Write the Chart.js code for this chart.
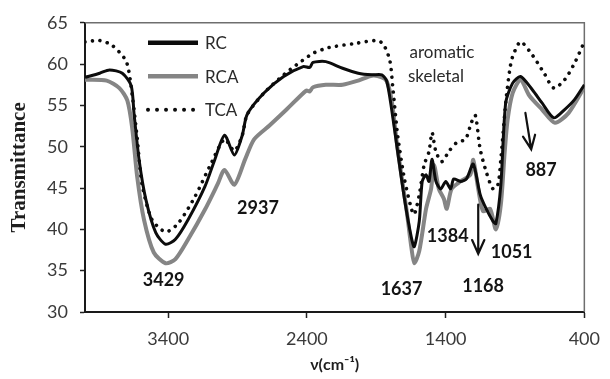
<!DOCTYPE html>
<html>
<head>
<meta charset="utf-8">
<script src="https://cdn.jsdelivr.net/npm/chart.js@4/dist/chart.umd.min.js"></script>
<style>
html,body{margin:0;padding:0;background:#fff;}
#wrap{width:610px;height:379px;position:relative;}
</style>
</head>
<body>
<div id="wrap"><canvas id="c" width="610" height="379"></canvas></div>
<script>
// ---- data ----
const seriesNames = ["RC", "RCA", "TCA"];

const rcWavenumber = [4000, 3894, 3823, 3731, 3667, 3646, 3610, 3561, 3490, 3419, 3348, 3256, 3135, 3065, 2994, 2923, 2866, 2831, 2710, 2568, 2427, 2380, 2356, 2264, 2143, 2030, 1931, 1860, 1824, 1789, 1746, 1697, 1647, 1626, 1590, 1569, 1541, 1520, 1498, 1470, 1435, 1399, 1364, 1342, 1293, 1250, 1201, 1151, 1108, 1059, 1038, 1002, 967, 917, 860, 775, 705, 620, 542, 471, 400];
const rcTransmittance = [58.4, 58.9, 59.3, 58.9, 57.4, 53.9, 48.4, 43.6, 39.6, 38.2, 38.8, 41.2, 45.2, 48.4, 51.4, 49.0, 51.4, 53.9, 56.5, 58.5, 59.7, 59.6, 60.2, 60.3, 59.5, 58.9, 58.7, 58.7, 57.9, 54.5, 49.4, 43.7, 39.0, 37.9, 41.0, 45.8, 46.6, 45.8, 48.5, 45.8, 44.9, 45.8, 44.9, 46.1, 45.8, 46.1, 47.9, 44.2, 42.5, 41.0, 40.7, 45.4, 55.3, 57.7, 58.5, 56.9, 55.3, 53.5, 54.5, 55.7, 57.5];

const rcaWavenumber = [4000, 3844, 3752, 3695, 3660, 3624, 3575, 3504, 3419, 3348, 3256, 3135, 3043, 2994, 2923, 2845, 2781, 2668, 2547, 2405, 2380, 2356, 2264, 2143, 2030, 1931, 1860, 1824, 1789, 1746, 1683, 1647, 1626, 1590, 1541, 1505, 1484, 1449, 1413, 1392, 1357, 1293, 1222, 1201, 1165, 1130, 1080, 1038, 1002, 974, 953, 917, 860, 797, 705, 612, 513, 400];
const rcaTransmittance = [58.1, 58.0, 57.1, 55.6, 52.3, 46.4, 41.2, 37.2, 35.9, 36.4, 38.8, 42.4, 45.5, 47.2, 45.4, 48.5, 50.9, 52.6, 54.5, 56.8, 56.7, 57.2, 57.5, 57.5, 58.0, 58.6, 58.4, 57.9, 55.6, 49.7, 42.5, 37.8, 35.9, 37.4, 42.5, 44.9, 47.8, 44.9, 43.7, 42.5, 44.9, 45.8, 46.6, 48.4, 44.9, 42.2, 42.5, 40.0, 43.0, 49.4, 53.3, 56.5, 58.1, 56.2, 54.5, 52.9, 54.1, 57.2];

const tcaWavenumber = [4000, 3894, 3802, 3702, 3660, 3624, 3589, 3518, 3419, 3327, 3206, 3093, 2994, 2923, 2866, 2831, 2710, 2568, 2476, 2356, 2242, 2051, 1909, 1853, 1803, 1782, 1746, 1697, 1647, 1626, 1590, 1555, 1520, 1498, 1470, 1427, 1378, 1321, 1257, 1215, 1186, 1151, 1108, 1059, 1023, 1002, 967, 938, 917, 860, 775, 690, 620, 542, 471, 400];
const tcaTransmittance = [62.7, 62.85, 62.25, 60.3, 56.3, 51.1, 45.5, 41.2, 39.7, 40.75, 44.0, 47.9, 50.9, 49.5, 51.4, 53.9, 56.5, 58.7, 59.9, 61.3, 62.0, 62.5, 62.85, 62.5, 60.5, 57.4, 51.4, 46.1, 42.5, 41.8, 44.2, 47.8, 49.4, 51.7, 49.4, 48.2, 49.4, 50.5, 50.9, 52.9, 53.8, 49.7, 47.0, 44.9, 45.4, 48.5, 55.3, 59.3, 60.9, 62.7, 61.1, 58.9, 57.1, 58.1, 60.1, 62.7];

const xTickValues = [3400, 2400, 1400, 400];
const yTickMin = 30, yTickMax = 65, yTickStep = 5;
const xAxisTitle = "ν(cm⁻¹)";
const yAxisTitle = "Transmittance";

// annotation labels (placed in data units)
const peakLabels = ["3429", "2937", "1637", "1168", "1384", "1051", "887", "aromatic", "skeletal"];
const peakLabelWavenumber = [3433, 2753, 1718, 1130, 1385, 924, 712, 1427, 1470];
const peakLabelValue = [33.8, 42.55, 32.75, 33.1, 39.2, 37.2, 47.2, 61.4, 58.5];
const peakLabelBold = [true, true, true, true, true, true, true, false, false];

// arrows (from -> to, data units)
const arrowFromWavenumber = [1165, 825];
const arrowFromValue = [43.0, 54.1];
const arrowToWavenumber = [1165, 783];
const arrowToValue = [37.05, 49.7];

// ---- build chart ----
const toPoints = (xs, ys) => xs.map((x, i) => ({x: x, y: ys[i]}));

const frameAndLabels = {
  id: 'frameAndLabels',
  beforeDatasetsDraw(chart) {
    const {ctx, chartArea: a} = chart;
    ctx.save();
    ctx.strokeStyle = '#6e6e6e';
    ctx.lineWidth = 1.5;
    ctx.beginPath();
    ctx.moveTo(a.left, a.top);
    ctx.lineTo(a.right, a.top);
    ctx.lineTo(a.right, a.bottom);
    ctx.stroke();
    ctx.restore();
  },
  afterDraw(chart) {
    const {ctx, chartArea: a, scales} = chart;
    const xs = scales.x, ys = scales.y;
    ctx.save();
    // annotation texts
    ctx.textAlign = 'center';
    ctx.textBaseline = 'middle';
    peakLabels.forEach((t, i) => {
      ctx.font = (peakLabelBold[i] ? 'bold 18px Lato' : '17px Lato');
      ctx.fillStyle = peakLabelBold[i] ? '#141414' : '#2a2a2a';
      ctx.fillText(t, xs.getPixelForValue(peakLabelWavenumber[i]), ys.getPixelForValue(peakLabelValue[i]));
    });
    // arrows
    ctx.strokeStyle = '#111';
    ctx.lineWidth = 2.2;
    ctx.lineCap = 'round';
    arrowFromWavenumber.forEach((w, i) => {
      const x1 = xs.getPixelForValue(w), y1 = ys.getPixelForValue(arrowFromValue[i]);
      const x2 = xs.getPixelForValue(arrowToWavenumber[i]), y2 = ys.getPixelForValue(arrowToValue[i]);
      const ang = Math.atan2(y2 - y1, x2 - x1);
      const L = 15, spread = 0.42;
      ctx.beginPath();
      ctx.moveTo(x1, y1); ctx.lineTo(x2, y2);
      ctx.moveTo(x2 - L * Math.cos(ang - spread), y2 - L * Math.sin(ang - spread));
      ctx.lineTo(x2, y2);
      ctx.lineTo(x2 - L * Math.cos(ang + spread), y2 - L * Math.sin(ang + spread));
      ctx.stroke();
    });
    // legend (inside plot, top-left)
    const ds = chart.data.datasets;
    ds.forEach((d, i) => {
      const y = a.top + 20 + i * 33.5;
      const x0 = a.left + 63, x1 = a.left + 113;
      ctx.save();
      ctx.strokeStyle = d.borderColor;
      ctx.lineWidth = d.legendWidth;
      ctx.lineCap = d.borderCapStyle || 'butt';
      ctx.setLineDash(d.legendDash || []);
      ctx.beginPath();
      ctx.moveTo(x0, y); ctx.lineTo(x1, y);
      ctx.stroke();
      ctx.restore();
      ctx.font = '17px Lato';
      ctx.fillStyle = '#2a2a2a';
      ctx.textAlign = 'left';
      ctx.textBaseline = 'middle';
      ctx.fillText(d.label, x1 + 7, y + 1);
    });
    ctx.restore();
  }
};

new Chart(document.getElementById('c'), {
  type: 'line',
  data: {
    datasets: [
      {
        label: seriesNames[0],
        data: toPoints(rcWavenumber, rcTransmittance),
        borderColor: '#0c0c0c',
        borderWidth: 3,
        legendWidth: 4.5,
        order: 1
      },
      {
        label: seriesNames[1],
        data: toPoints(rcaWavenumber, rcaTransmittance),
        borderColor: '#858585',
        borderWidth: 4,
        legendWidth: 4.5,
        order: 2
      },
      {
        label: seriesNames[2],
        data: toPoints(tcaWavenumber, tcaTransmittance),
        borderColor: '#0c0c0c',
        borderWidth: 3.6,
        legendWidth: 4,
        borderDash: [0.01, 7.5],
        legendDash: [0.01, 9],
        borderCapStyle: 'round',
        order: 0
      }
    ]
  },
  options: {
    responsive: false,
    animation: false,
    devicePixelRatio: 1,
    layout: {padding: {top: 19, right: 17, left: 0, bottom: 0}},
    elements: {
      point: {radius: 0, hoverRadius: 0},
      line: {tension: 0.25, fill: false, borderJoinStyle: 'round'}
    },
    plugins: {legend: {display: false}, tooltip: {enabled: false}},
    scales: {
      x: {
        type: 'linear',
        reverse: true,
        min: 400,
        max: 4000,
        afterBuildTicks: s => { s.ticks = xTickValues.map(v => ({value: v})); },
        afterFit: s => { s.height = 67; },
        ticks: {
          font: {family: 'Lato', size: 18},
          color: '#3a3a3a',
          padding: 10,
          maxRotation: 0,
          autoSkip: false,
          callback: v => String(v)
        },
        grid: {drawOnChartArea: false, drawTicks: true, tickLength: 6, color: '#222', tickWidth: 1.5},
        border: {display: true, color: '#1a1a1a', width: 2},
        title: {
          display: true,
          text: xAxisTitle,
          color: '#1e1e1e',
          font: {family: 'Lato', size: 16, weight: 'bold'},
          padding: {top: 0, bottom: 5}
        }
      },
      y: {
        min: yTickMin,
        max: yTickMax,
        afterFit: s => { s.width = 85; },
        ticks: {
          stepSize: yTickStep,
          font: {family: 'Lato', size: 18},
          color: '#3a3a3a',
          padding: 12,
          callback: v => String(v)
        },
        grid: {drawOnChartArea: false, drawTicks: true, tickLength: 5, color: '#222', tickWidth: 1.5},
        border: {display: true, color: '#1a1a1a', width: 2},
        title: {
          display: true,
          text: yAxisTitle,
          color: '#1e1e1e',
          font: {family: '"Liberation Serif"', size: 21, weight: 'bold'},
          padding: {top: 7, bottom: 0}
        }
      }
    }
  },
  plugins: [frameAndLabels]
});
</script>
</body>
</html>
